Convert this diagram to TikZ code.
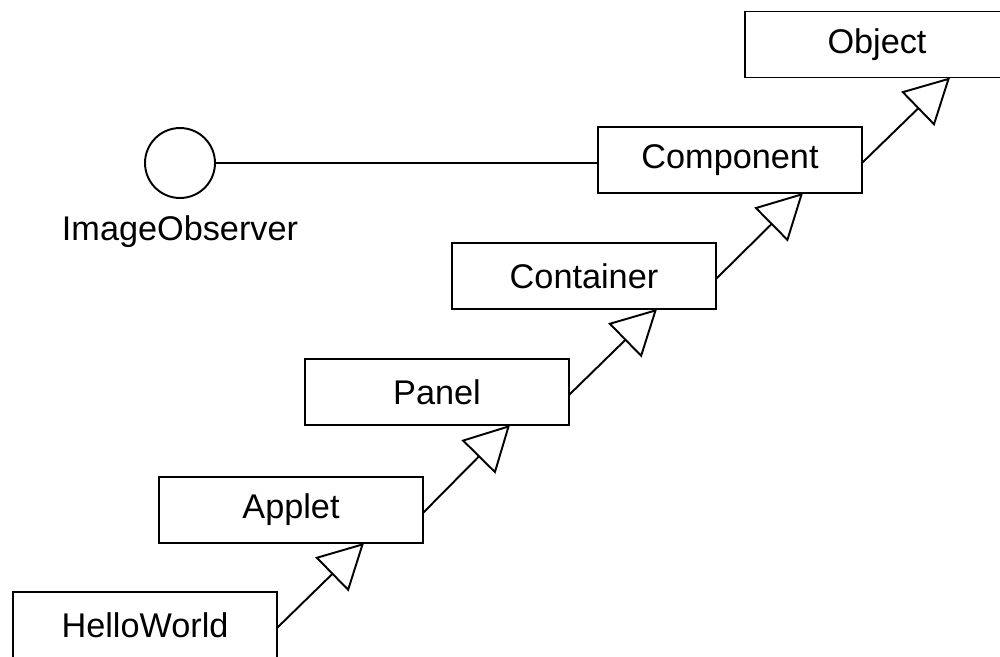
\documentclass[tikz,border=0pt]{standalone}
\usepackage{fontspec}
\setmainfont{Liberation Sans}
\usetikzlibrary{arrows.meta}
\tikzset{
  classbox/.style={draw, line width=1.1pt, minimum width=5.28cm, minimum height=1.32cm,
    inner sep=0pt, outer sep=0pt, font=\fontsize{19.5}{23}\selectfont},
  inherit/.style={line width=1.1pt, -{Triangle[open, fill=white, length=0.9cm, width=0.95cm]}}
}
\begin{document}
\begin{tikzpicture}[x=0.02cm, y=-0.02cm]
    \useasboundingbox (0,0) rectangle (1000,656);

    % Classes
    \node[classbox] (object)    at (877,44.5) {Object};
    \node[classbox] (component) at (730,160)  {Component};
    \node[classbox] (container) at (584,276)  {Container};
    \node[classbox] (panel)     at (437,392)  {Panel};
    \node[classbox] (applet)    at (291,510)  {Applet};
    \node[classbox] (hello)     at (145,625)  {HelloWorld};

    % Interface
    \node[draw, circle, line width=1.1pt, minimum size=1.4cm, inner sep=0pt, outer sep=0pt] (observer) at (180,163) {};
    \node[font=\fontsize{19.5}{23}\selectfont] (observerlabel) at (180,232) {ImageObserver};
    \draw[line width=1.1pt] (observer.east) -- (observer.east -| component.west);

    % Inheritance
    \draw[inherit] ([yshift=-0.06cm]hello.east)     -- ([xshift=1.46cm]applet.south);
    \draw[inherit] ([yshift=-0.06cm]applet.east)    -- ([xshift=1.46cm]panel.south);
    \draw[inherit] ([yshift=-0.06cm]panel.east)     -- ([xshift=1.46cm]container.south);
    \draw[inherit] ([yshift=-0.06cm]container.east) -- ([xshift=1.46cm]component.south);
    \draw[inherit] ([yshift=-0.06cm]component.east) -- ([xshift=1.46cm]object.south);
\end{tikzpicture}
\end{document}
